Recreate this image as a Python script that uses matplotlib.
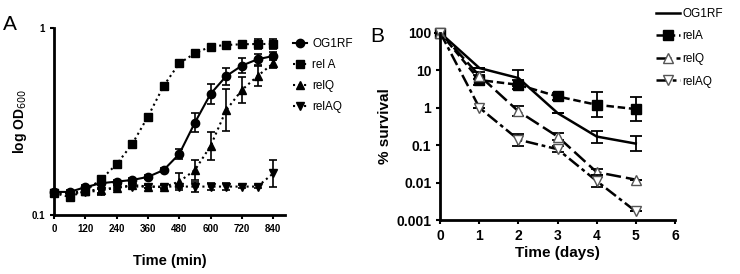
import numpy as np
import matplotlib.pyplot as plt
from matplotlib.ticker import FixedLocator, FuncFormatter, NullLocator

plt.rcParams['font.family'] = ['Liberation Sans', 'DejaVu Sans']

# ---- panel A data: growth (OD600) ----
time_min = [0, 60, 120, 180, 240, 300, 360, 420, 480, 540, 600, 660, 720, 780, 840]
od_og1rf = [0.133, 0.133, 0.141, 0.148, 0.151, 0.154, 0.160, 0.174, 0.212, 0.312, 0.444, 0.553, 0.629, 0.680, 0.708]
od_rela = [0.131, 0.125, 0.135, 0.155, 0.187, 0.240, 0.336, 0.490, 0.647, 0.732, 0.795, 0.811, 0.818, 0.821, 0.821]
od_relq = [0.133, 0.131, 0.135, 0.137, 0.139, 0.145, 0.142, 0.141, 0.151, 0.174, 0.234, 0.364, 0.466, 0.553, 0.647]
od_relaq = [0.131, 0.130, 0.133, 0.135, 0.142, 0.142, 0.142, 0.142, 0.142, 0.142, 0.142, 0.142, 0.142, 0.142, 0.167]
# error bars as half-width in decades
err_og1rf = [0.01, 0.01, 0.01, 0.01, 0.01, 0.01, 0.01, 0.01, 0.027, 0.05, 0.053, 0.045, 0.04, 0.03, 0.02]
err_rela = [0.01, 0.01, 0.01, 0.01, 0.01, 0.01, 0.01, 0.01, 0.01, 0.01, 0.01, 0.01, 0.01, 0.027, 0.027]
err_relq = [0.01, 0.01, 0.01, 0.027, 0.01, 0.01, 0.01, 0.01, 0.045, 0.053, 0.075, 0.11, 0.068, 0.053, 0.027]
err_relaq = [0.01, 0.01, 0.01, 0.01, 0.01, 0.01, 0.01, 0.01, 0.01, 0.027, 0.02, 0.02, 0.01, 0.01, 0.071]

# ---- panel B data: % survival ----
days = [0, 1, 2, 3, 4, 5]
surv_og1rf = [100, 11.5, 6.2, 0.72, 0.17, 0.11]
surv_rela = [100, 5.5, 4.1, 2.0, 1.2, 0.92]
surv_relq = [100, 7.2, 0.8, 0.17, 0.019, 0.012]
surv_relaq = [100, 1.0, 0.14, 0.078, 0.011, 0.0017]
serr_og1rf = [0, 0, 0.22, 0, 0.16, 0.2]
serr_rela = [0, 0.14, 0.12, 0.09, 0.34, 0.31]
serr_relq = [0, 0.1, 0.13, 0.1, 0.08, 0]
serr_relaq = [0, 0, 0.16, 0.08, 0.16, 0]


def logerr(vals, e):
    v = np.array(vals, dtype=float)
    e = np.array(e, dtype=float)
    return [v - v / 10 ** e, v * 10 ** e - v]


fig = plt.figure(figsize=(7.4, 2.74), dpi=100, facecolor='white')
axA = fig.add_axes([0.073, 0.215, 0.312, 0.683])
axB = fig.add_axes([0.595, 0.197, 0.317, 0.683])

# panel A
seriesA = [
    (od_og1rf, err_og1rf, 'o', '-', 'OG1RF'),
    (od_rela, err_rela, 's', ':', 'rel A'),
    (od_relq, err_relq, '^', ':', 'relQ'),
    (od_relaq, err_relaq, 'v', ':', 'relAQ'),
]
for vals, err, mk, ls, lab in seriesA:
    axA.errorbar(time_min, vals, yerr=logerr(vals, err), fmt='none', ecolor='black',
                 elinewidth=1.2, capsize=3, capthick=1.2, clip_on=False)
    axA.plot(time_min, vals, marker=mk, ls=ls, color='black', ms=6, lw=1.5,
             label=lab, clip_on=False)
axA.set_yscale('log')
axA.set_ylim(0.1, 1)
axA.set_xlim(0, 885)
axA.yaxis.set_major_locator(FixedLocator([0.1, 1]))
axA.yaxis.set_minor_locator(NullLocator())
axA.yaxis.set_major_formatter(FuncFormatter(lambda v, p: '%g' % v))
axA.set_xticks(range(0, 841, 120))
axA.set_ylabel('log OD$_{600}$', fontsize=10, fontweight='bold', labelpad=2)
axA.set_xlabel('Time (min)', fontsize=10.5, fontweight='bold', labelpad=14)
axA.legend(loc='upper left', bbox_to_anchor=(1.0, 0.99), frameon=False, fontsize=8.5,
           handlelength=1.2, handletextpad=0.4, labelspacing=0.75, borderaxespad=0.3)
axA.text(-0.22, 1.02, 'A', transform=axA.transAxes, fontsize=15, va='center')

# panel B
seriesB = [
    (surv_og1rf, serr_og1rf, 'None', '-', 'OG1RF', 'black'),
    (surv_rela, serr_rela, 's', (0, (3, 1.5)), 'relA', 'black'),
    (surv_relq, serr_relq, '^', (0, (6, 2)), 'relQ', 'white'),
    (surv_relaq, serr_relaq, 'v', (0, (5, 1.5, 1.5, 1.5)), 'relAQ', 'white'),
]
for vals, err, mk, ls, lab, fc in seriesB:
    axB.errorbar(days, vals, yerr=logerr(vals, err), fmt='none', ecolor='black',
                 elinewidth=1.3, capsize=4, capthick=1.3, clip_on=False)
    axB.plot(days, vals, marker=mk, ls=ls, color='black', mfc=fc,
             mec='#555555' if fc == 'white' else 'black', ms=7, lw=1.8,
             label=lab, clip_on=False)
axB.set_yscale('log')
axB.set_ylim(0.001, 100)
axB.set_xlim(0, 6)
axB.yaxis.set_major_locator(FixedLocator([0.001, 0.01, 0.1, 1, 10, 100]))
axB.yaxis.set_minor_locator(NullLocator())
axB.yaxis.set_major_formatter(FuncFormatter(lambda v, p: '%g' % v))
axB.set_xticks(range(0, 7))
axB.set_ylabel('% survival', fontsize=11, fontweight='bold', labelpad=3)
axB.set_xlabel('Time (days)', fontsize=11, fontweight='bold', labelpad=2)
axB.legend(loc='upper left', bbox_to_anchor=(0.9, 1.16), frameon=False, fontsize=8.5,
           handlelength=2.0, handletextpad=0.2, labelspacing=0.9, borderaxespad=0)
axB.text(-0.3, 0.98, 'B', transform=axB.transAxes, fontsize=15, va='center')

for ax in (axA, axB):
    for s in ('top', 'right'):
        ax.spines[s].set_visible(False)
    for s in ('left', 'bottom'):
        ax.spines[s].set_linewidth(2)
    ax.tick_params(width=1.5, length=3, labelsize=10)
    for t in ax.get_xticklabels() + ax.get_yticklabels():
        t.set_fontweight('bold')
axA.tick_params(labelsize=7)

fig.savefig('out.png', dpi=100, facecolor='white')
